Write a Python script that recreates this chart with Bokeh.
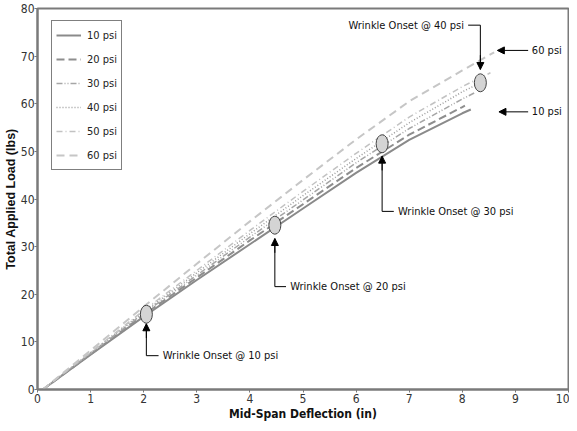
from bokeh.plotting import figure
from bokeh.models import Range1d, Legend, LegendItem, Arrow, NormalHead, FixedTicker
from bokeh.core.properties import value
from bokeh.embed import file_html
from bokeh.resources import INLINE

NARROW = "DejaVu Sans Condensed"

# ---- data ----
series_names = ["10 psi", "20 psi", "30 psi", "40 psi", "50 psi", "60 psi"]
x_10 = [0.1, 1, 2, 3, 4, 5, 6, 7, 8, 8.16]
y_10 = [0, 7.3, 15.3, 23.0, 30.5, 38.0, 45.5, 52.4, 58.0, 58.8]
x_20 = [0.1, 1, 2, 3, 4, 5, 6, 7, 8, 8.05]
y_20 = [0, 7.4, 15.7, 23.5, 31.3, 38.9, 46.5, 53.5, 59.3, 59.6]
x_30 = [0.1, 1, 2, 3, 4, 5, 6, 7, 8, 8.25]
y_30 = [0, 7.6, 16.0, 24.0, 32.0, 39.8, 47.6, 54.8, 61.0, 62.4]
x_40 = [0.1, 1, 2, 3, 4, 5, 6, 7, 8, 8.34]
y_40 = [0, 7.7, 16.3, 24.5, 32.7, 40.7, 48.5, 56.0, 62.5, 64.4]
x_50 = [0.1, 1, 2, 3, 4, 5, 6, 7, 8, 8.53]
y_50 = [0, 7.8, 16.6, 25.0, 33.4, 41.6, 49.6, 57.2, 63.6, 66.5]
x_60 = [0.1, 1, 2, 3, 4, 5, 6, 7, 8, 8.6]
y_60 = [0, 8.2, 17.4, 26.4, 35.3, 44.0, 52.5, 60.5, 67.0, 70.8]

onset_x = [2.05, 4.47, 6.49, 8.34]
onset_y = [15.8, 34.5, 51.6, 64.4]
onset_labels = ["Wrinkle Onset @ 10 psi", "Wrinkle Onset @ 20 psi",
                "Wrinkle Onset @ 30 psi", "Wrinkle Onset @ 40 psi"]
# callouts below markers (10, 20, 30 psi): arrow tip y, elbow y, elbow end x, text x
below_tip_y = [13.8, 31.7, 49.0]
below_elbow_y = [7.1, 21.6, 37.4]
below_end_x = [2.28, 4.68, 6.71]
below_text_x = [2.36, 4.76, 6.79]
# callout above the 40 psi marker
above_tip_y = 67.2
above_elbow_y = 76.5
above_end_x = 8.11
above_text_x = 8.03
# side arrows
side_labels = ["60 psi", "10 psi"]
side_y = [71.2, 58.3]
side_start_x = [9.24, 9.24]
side_tip_x = [8.66, 8.69]
side_text_x = [9.31, 9.31]

x_ticks = list(range(0, 11))
y_ticks = list(range(0, 81, 10))

p = figure(width=569, height=423, output_backend="svg", toolbar_location=None,
           x_range=Range1d(0, 10), y_range=Range1d(0, 80),
           min_border_left=27, min_border_right=1, min_border_top=8, min_border_bottom=30)
p.background_fill_color = "white"
p.border_fill_color = "white"
p.outline_line_color = "#7a7a7a"
p.outline_line_width = 2
p.xgrid.visible = False
p.ygrid.visible = False

for ax, ticks in ((p.xaxis, x_ticks), (p.yaxis, y_ticks)):
    ax.ticker = FixedTicker(ticks=ticks)
    ax.minor_tick_line_color = None
    ax.major_tick_in = 0
    ax.major_tick_out = 3
    ax.major_tick_line_color = "#7a7a7a"
    ax.axis_line_color = "#7a7a7a"
    ax.axis_line_width = 2
    ax.major_label_text_font = NARROW
    ax.major_label_text_font_size = "12px"
    ax.major_label_text_color = "#333333"
    ax.major_label_standoff = 1
    ax.axis_label_text_font_style = "bold"
    ax.axis_label_text_color = "#111111"
    ax.axis_label_standoff = 2

p.xaxis.axis_label = "Mid-Span Deflection (in)"
p.xaxis.axis_label_text_font = NARROW
p.xaxis.axis_label_text_font_size = "12px"
p.xaxis.axis_label_standoff = 1
p.yaxis.axis_label = "Total Applied Load (lbs)"
p.yaxis.axis_label_text_font = "Liberation Sans"
p.yaxis.axis_label_text_font_size = "12.5px"
p.yaxis.axis_label_standoff = 0
p.yaxis.major_label_standoff = 0

styles = [
    ("#8a8a8a", 2.0, "solid"),
    ("#8e8e8e", 2.0, "8 4"),
    ("#a6a6a6", 1.5, "6 2 1 2 1 2"),
    ("#9c9c9c", 1.5, "1 2"),
    ("#c2c2c2", 1.5, "6 3 1 3"),
    ("#c6c6c6", 2.0, "8 5"),
]
xs = [x_10, x_20, x_30, x_40, x_50, x_60]
ys = [y_10, y_20, y_30, y_40, y_50, y_60]
items = []
for name, xv, yv, (c, w, d) in zip(series_names, xs, ys, styles):
    r = p.line(xv, yv, line_color=c, line_width=w, line_dash=d)
    items.append(LegendItem(label=name, renderers=[r]))

legend = Legend(items=items, location=(14, 219), margin=0, padding=4, spacing=4,
                glyph_height=20, glyph_width=25, label_height=20, label_standoff=6,
                label_text_font=NARROW, label_text_font_size="11px",
                label_text_color="#222222",
                border_line_color="black", border_line_width=1,
                background_fill_color="white", background_fill_alpha=1)
p.add_layout(legend, "center")

# callouts below markers
for i in range(3):
    p.line([onset_x[i], onset_x[i], below_end_x[i]],
           [below_tip_y[i], below_elbow_y[i], below_elbow_y[i]],
           line_color="black", line_width=1)
    p.add_layout(Arrow(end=NormalHead(size=7, fill_color="black", line_color="black"),
                       x_start=onset_x[i], y_start=below_tip_y[i] - 3,
                       x_end=onset_x[i], y_end=below_tip_y[i],
                       line_color="black", line_width=1))
p.text(below_text_x, below_elbow_y, text=onset_labels[:3],
       text_font=value(NARROW), text_font_size="11px", text_color="#111111",
       text_align="left", text_baseline="middle")

# callout above 40 psi marker
p.line([above_end_x, onset_x[3], onset_x[3]],
       [above_elbow_y, above_elbow_y, above_tip_y],
       line_color="black", line_width=1)
p.add_layout(Arrow(end=NormalHead(size=7, fill_color="black", line_color="black"),
                   x_start=onset_x[3], y_start=above_tip_y + 3,
                   x_end=onset_x[3], y_end=above_tip_y,
                   line_color="black", line_width=1))
p.text([above_text_x], [above_elbow_y], text=[onset_labels[3]],
       text_font=value(NARROW), text_font_size="11px", text_color="#111111",
       text_align="right", text_baseline="middle")

# side arrows
for i in range(2):
    p.add_layout(Arrow(end=NormalHead(size=7, fill_color="black", line_color="black"),
                       x_start=side_start_x[i], y_start=side_y[i],
                       x_end=side_tip_x[i], y_end=side_y[i],
                       line_color="black", line_width=1))
p.text(side_text_x, side_y, text=side_labels,
       text_font=value(NARROW), text_font_size="11px", text_color="#111111",
       text_align="left", text_baseline="middle")

# wrinkle onset markers
p.ellipse(onset_x, onset_y, width=12, height=18, width_units="screen", height_units="screen",
          fill_color="#d4d4d4", line_color="#444444", line_width=1)

open("out.html", "w").write(file_html(p, INLINE))
